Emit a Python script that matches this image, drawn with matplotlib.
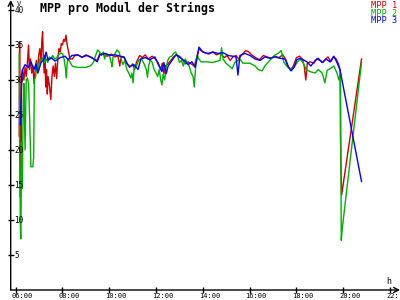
import matplotlib
matplotlib.use("Agg")
import matplotlib.pyplot as plt
import matplotlib.transforms as mtransforms

# MPP 1 (rot)
t1 = ["06:09", "06:10", "06:11", "06:12", "06:13", "06:14", "06:15", "06:18", "06:21", "06:24",
      "06:27", "06:30", "06:33", "06:35", "06:38", "06:41", "06:44", "06:47", "06:50", "06:53",
      "06:56", "06:59", "07:02", "07:05", "07:07", "07:09", "07:11", "07:13", "07:15", "07:17",
      "07:19", "07:21", "07:23", "07:27", "07:30", "07:33", "07:36", "07:39", "07:42", "07:45",
      "07:48", "07:51", "07:54", "07:57", "08:00", "08:03", "08:06", "08:09", "08:12", "08:15",
      "08:19", "08:25", "08:32", "08:40", "08:50", "09:00", "09:10", "09:20", "09:29", "09:36",
      "09:45", "09:55", "10:05", "10:15", "10:22", "10:27", "10:30", "10:38", "10:45", "10:52",
      "11:00", "11:05", "11:10", "11:18", "11:25", "11:32", "11:40", "11:50", "11:58", "12:05",
      "12:12", "12:16", "12:20", "12:24", "12:30", "12:38", "12:45", "12:52", "13:00", "13:08",
      "13:15", "13:22", "13:30", "13:38", "13:44", "13:50", "13:55", "14:05", "14:15", "14:25",
      "14:35", "14:45", "14:55", "15:02", "15:10", "15:17", "15:25", "15:32", "15:40", "15:50",
      "15:58", "16:05", "16:15", "16:25", "16:35", "16:45", "16:55", "17:05", "17:15", "17:25",
      "17:32", "17:40", "17:46", "17:52", "18:00", "18:08", "18:15", "18:20", "18:24", "18:28",
      "18:35", "18:45", "18:52", "19:00", "19:08", "19:15", "19:21", "19:28", "19:35", "19:42",
      "19:48", "19:52", "19:53", "19:54", "19:56", "20:47"]
v1 = [22.0, 35.4, 20.0, 13.3, 22.6, 18.2, 30.8, 31.5, 30.0, 31.8,
      30.5, 32.5, 35.0, 31.5, 33.0, 31.0, 32.0, 29.5, 31.5, 32.8,
      31.0, 33.5, 34.5, 32.5, 35.5, 36.9, 33.0, 31.0, 33.5, 29.0,
      31.5, 28.0, 30.5, 29.0, 27.2, 30.5, 32.0, 30.5, 32.4, 30.2,
      33.0, 34.5, 34.0, 35.2, 35.0, 35.8, 35.5, 36.4, 35.0, 34.2,
      33.0, 33.0, 33.5, 33.6, 33.2, 33.6, 33.3, 33.0, 32.8, 33.8,
      33.6, 33.4, 33.7, 33.3, 33.5, 32.0, 33.3, 33.2, 32.4, 31.8,
      32.3, 31.5, 32.6, 33.5, 33.2, 33.6, 33.0, 33.4, 33.0, 32.5,
      31.5, 32.4, 30.9, 32.0, 32.3, 32.8, 33.3, 33.6, 33.4, 32.9,
      32.3, 32.6, 32.3, 32.0, 33.2, 34.5, 34.2, 33.9, 33.7, 34.0,
      33.6, 33.8, 33.2, 33.5, 32.8, 33.3, 33.5, 33.0, 33.6, 34.2,
      34.0, 33.6, 33.2, 32.9, 33.5, 33.3, 33.1, 33.4, 33.2, 33.6,
      33.0, 31.8, 31.5, 32.0, 33.2, 33.4, 33.0, 32.0, 30.0, 32.4,
      32.6, 32.4, 33.0, 32.8, 32.5, 33.0, 33.3, 32.6, 33.3, 33.0,
      32.3, 31.5, 21.9, 18.1, 13.6, 33.0]

# MPP 2 (gruen)
t2 = ["06:09", "06:10", "06:11", "06:12", "06:13", "06:14", "06:15", "06:17", "06:19", "06:21",
      "06:24", "06:27", "06:30", "06:33", "06:36", "06:39", "06:44", "06:46", "06:48", "06:51",
      "06:55", "06:58", "07:02", "07:06", "07:10", "07:14", "07:18", "07:22", "07:26", "07:30",
      "07:35", "07:40", "07:45", "07:50", "07:55", "08:00", "08:04", "08:08", "08:10", "08:12",
      "08:15", "08:20", "08:25", "08:30", "08:40", "08:50", "09:00", "09:10", "09:15", "09:20",
      "09:25", "09:30", "09:35", "09:40", "09:45", "09:48", "09:52", "10:00", "10:05", "10:07",
      "10:10", "10:15", "10:20", "10:25", "10:30", "10:35", "10:40", "10:45", "10:50", "10:55",
      "10:58", "11:01", "11:04", "11:10", "11:15", "11:20", "11:25", "11:30", "11:35", "11:38",
      "11:41", "11:45", "11:50", "11:55", "12:00", "12:04", "12:08", "12:12", "12:15", "12:18",
      "12:22", "12:26", "12:30", "12:35", "12:40", "12:45", "12:50", "12:55", "13:00", "13:05",
      "13:10", "13:15", "13:20", "13:25", "13:30", "13:35", "13:38", "13:41", "13:45", "13:50",
      "13:55", "14:10", "14:25", "14:44", "14:48", "14:52", "14:59", "15:10", "15:15", "15:22",
      "15:35", "15:43", "16:01", "16:14", "16:22", "16:32", "16:39", "16:52", "17:03", "17:13",
      "17:21", "17:28", "17:38", "17:49", "18:02", "18:09", "18:17", "18:25", "18:35", "18:48",
      "18:56", "19:06", "19:13", "19:19", "19:26", "19:36", "19:44", "19:49", "19:53", "19:55",
      "19:58", "20:47"]
v2 = [33.8, 21.0, 14.6, 9.2, 7.3, 12.4, 21.1, 14.5, 25.5, 29.5,
      20.0, 30.0, 30.3, 29.5, 24.0, 17.6, 17.6, 19.0, 30.0, 30.5,
      32.5, 31.5, 33.0, 32.8, 33.2, 32.5, 33.0, 32.5, 33.3, 33.0,
      33.5, 33.0, 33.2, 33.6, 33.8, 33.8, 33.0, 31.5, 30.3, 32.5,
      33.0, 32.5, 32.0, 31.9, 31.8, 31.8, 31.8, 32.0, 32.2, 32.6,
      33.5, 34.3, 34.0, 33.5, 34.0, 33.0, 33.8, 33.5, 32.5, 31.9,
      33.4, 33.8, 34.3, 34.0, 33.0, 32.2, 32.8, 31.5, 31.0, 30.3,
      31.0, 29.6, 31.8, 32.0, 32.8, 33.0, 32.8, 32.2, 31.5, 30.4,
      32.0, 32.9, 32.5, 31.5, 31.0, 30.5, 31.5, 30.0, 29.3, 30.8,
      30.0, 31.8, 32.8, 33.3, 33.4, 33.8, 34.0, 33.5, 32.5, 32.8,
      32.0, 33.0, 32.5, 32.0, 31.0, 30.5, 29.0, 31.5, 33.5, 33.0,
      32.6, 32.6, 32.5, 32.8, 34.6, 33.0, 32.4, 31.9, 31.6, 32.5,
      33.0, 32.4, 32.4, 32.0, 31.5, 31.3, 32.0, 32.8, 33.5, 33.8,
      34.2, 32.5, 31.8, 31.5, 32.5, 33.0, 32.5, 31.5, 31.2, 31.0,
      31.5, 31.0, 29.6, 31.4, 31.6, 32.0, 31.0, 30.0, 31.0, 7.1,
      9.0, 32.5]

# MPP 3 (blau)
t3 = ["06:12", "06:13", "06:15", "06:17", "06:24", "06:32", "06:39", "06:47", "06:52", "06:57",
      "07:05", "07:13", "07:18", "07:23", "07:31", "07:41", "07:54", "08:07", "08:14", "08:24",
      "08:37", "08:50", "09:03", "09:16", "09:29", "09:36", "09:49", "10:02", "10:15", "10:28",
      "10:38", "10:46", "10:53", "11:03", "11:14", "11:21", "11:32", "11:44", "11:57", "12:05",
      "12:15", "12:20", "12:26", "12:31", "12:41", "12:51", "13:01", "13:14", "13:22", "13:32",
      "13:40", "13:45", "13:50", "14:00", "14:13", "14:26", "14:39", "14:52", "15:05", "15:17",
      "15:25", "15:30", "15:35", "15:48", "16:01", "16:14", "16:27", "16:39", "16:52", "17:05",
      "17:18", "17:31", "17:38", "17:46", "17:54", "18:01", "18:09", "18:17", "18:27", "18:37",
      "18:48", "18:56", "19:06", "19:16", "19:26", "19:36", "19:44", "19:52", "20:47"]
v3 = [23.6, 25.7, 29.6, 31.4, 32.2, 31.8, 32.6, 31.5, 32.3, 31.0,
      32.5, 33.0, 34.0, 32.8, 33.2, 32.7, 33.2, 33.4, 32.9, 33.5,
      33.6, 33.3, 33.5, 33.2, 32.6, 33.6, 33.8, 33.5, 33.6, 33.4,
      33.3, 32.3, 31.9, 32.2, 31.5, 33.0, 33.2, 32.9, 33.3, 32.3,
      31.2, 32.5, 30.9, 32.0, 32.8, 33.6, 33.2, 32.7, 32.2, 32.6,
      31.8, 33.0, 34.7, 34.0, 33.8, 34.0, 33.8, 33.9, 33.5, 33.4,
      33.3, 30.7, 33.5, 33.8, 33.5, 33.0, 32.8, 33.3, 33.1, 33.3,
      33.1, 33.0, 32.0, 31.3, 31.8, 32.9, 33.1, 32.9, 32.6, 32.0,
      32.8, 33.1, 32.5, 33.0, 32.6, 33.4, 32.5, 31.4, 15.5]

x_ticks = [6, 8, 10, 12, 14, 16, 18, 20, 22]
x_labels = ["06:00", "08:00", "10:00", "12:00", "14:00", "16:00", "18:00", "20:00", "22:"]
y_ticks = [5, 10, 15, 20, 25, 30, 35, 40]

series = [("MPP 1", t1, v1, "#cc0000"),
          ("MPP 2", t2, v2, "#00b000"),
          ("MPP 3", t3, v3, "#0000ff")]


def hm(s):
    h, m = s.split(":")
    return int(h) + int(m) / 60.0


mono = "DejaVu Sans Mono"
fig = plt.figure(figsize=(4, 3), dpi=100)
fig.patch.set_facecolor("white")
ax = fig.add_axes([0.02675, 0.0333, 0.97325, 0.9667])
ax.set_xlim(5.786, 22.4275)
ax.set_ylim(0, 41.43)
for s in ax.spines.values():
    s.set_visible(False)

for name, t, v, c in series:
    ax.plot([hm(x) for x in t], v, color=c, lw=1.0, clip_on=False)

# Achsen mit Pfeilen
arr = dict(arrowstyle="->,head_length=0.35,head_width=0.18", lw=1.0, color="black",
           shrinkA=0, shrinkB=0)
ax.annotate("", xy=(0, 1), xytext=(0, 0), xycoords="axes fraction", arrowprops=arr)
ax.annotate("", xy=(1, 0), xytext=(0, 0), xycoords="axes fraction", arrowprops=arr)

ax.set_xticks(x_ticks)
ax.set_yticks(y_ticks)
ax.tick_params(direction="inout", length=4.5, width=1.0, labelbottom=False, labelleft=False)

ytr = mtransforms.offset_copy(ax.get_yaxis_transform(), fig, x=3.5, y=0, units="dots")
for v in y_ticks:
    ax.text(0, v, str(v), transform=ytr, ha="left", va="center", fontsize=5.5, family=mono)
xtr = mtransforms.offset_copy(ax.get_xaxis_transform(), fig, x=-4, y=-3, units="dots")
for x, lab in zip(x_ticks, x_labels):
    ax.text(x, 0, lab, transform=xtr, ha="left", va="top", fontsize=5.0, family=mono)

fig.text(17 / 400, 1 - 3.5 / 300, "V", fontsize=5, family=mono, ha="left", va="center")
fig.text(389 / 400, 1 - 282 / 300, "h", fontsize=6, family=mono, ha="center", va="center")

fig.text(40 / 400, 1 - 8 / 300, "MPP pro Modul der Strings", fontsize=8.4,
         family=mono, weight="bold", ha="left", va="center")
for i, (name, t, v, c) in enumerate(series):
    fig.text(397 / 400, 1 - (5.5 + 7.5 * i) / 300, name, color=c, fontsize=6.2,
             family=mono, ha="right", va="center")

fig.savefig("out.png", dpi=100)
